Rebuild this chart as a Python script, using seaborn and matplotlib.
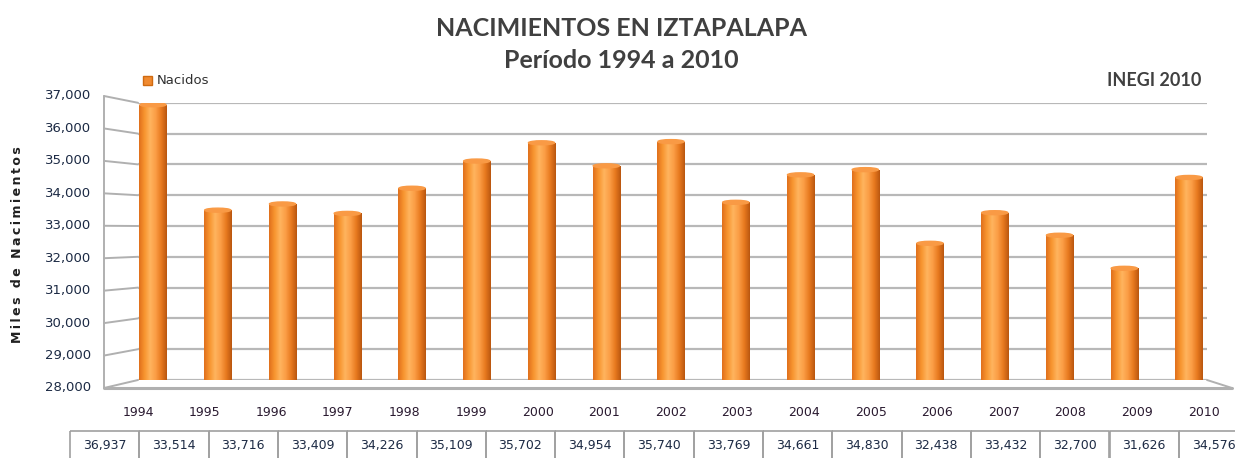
"""
Nacimientos en Iztapalapa 1994-2010, bar chart with a fake 3D look.
"""
import numpy as np
import pandas as pd
import matplotlib
matplotlib.use("Agg")
import matplotlib.pyplot as plt
import seaborn as sns
from matplotlib.colors import LinearSegmentedColormap
from matplotlib.patches import Ellipse, Rectangle

years = ['1994', '1995', '1996', '1997', '1998', '1999', '2000', '2001', '2002',
         '2003', '2004', '2005', '2006', '2007', '2008', '2009', '2010']
nacidos = [36937, 33514, 33716, 33409, 34226, 35109, 35702, 34954, 35740,
           33769, 34661, 34830, 32438, 33432, 32700, 31626, 34576]
y_ticks = [28000, 29000, 30000, 31000, 32000, 33000, 34000, 35000, 36000, 37000]

W, H = 1235, 458
YMIN, YMAX = 28000, 37000

sns.set_style("white")
plt.rcParams['font.family'] = ['DejaVu Sans']

fig = plt.figure(figsize=(W / 100, H / 100), dpi=100)

# overlay in pixel coordinates for the wall / floor / table
ov = fig.add_axes([0, 0, 1, 1])
ov.set_xlim(0, W)
ov.set_ylim(H, 0)
ov.axis('off')

# back wall of the plot: pixel box
bx0, bx1 = 138, 1207
by_top, by_bot = 102.8, 380
ax = fig.add_axes([bx0 / W, 1 - by_bot / H, (bx1 - bx0) / W, (by_bot - by_top) / H])
ax.patch.set_alpha(0)

df = pd.DataFrame({'Año': years, 'Nacidos': nacidos})
sns.barplot(data=df, x='Año', y='Nacidos', color='#f08a30', width=0.42,
            ax=ax, zorder=3, linewidth=0)

ax.set_ylim(YMIN, YMAX)
x_left = (bx0 - 153) / 64.75
x_right = (bx1 - 153) / 64.75
ax.set_xlim(x_left, x_right)

for t in y_ticks:
    ax.axhline(t, color='#b8b8b8', lw=1.6, zorder=1)
ax.set_xticks([])
ax.set_yticks([])
ax.set_xlabel('')
ax.set_ylabel('')
for s in ax.spines.values():
    s.set_visible(False)

# cylinder shading
cmap = LinearSegmentedColormap.from_list(
    'cyl', ['#e06f1c', '#f7952f', '#ffb45e', '#fb9d45', '#e7791f', '#b9560f'])
grad = np.linspace(0, 1, 256).reshape(1, -1)
px_per_unit = (by_bot - by_top) / (YMAX - YMIN)
for bar in list(ax.patches):
    x0 = bar.get_x()
    w = bar.get_width()
    h = bar.get_height()
    im = ax.imshow(grad, extent=[x0, x0 + w, YMIN, h], aspect='auto',
                   cmap=cmap, zorder=4)
    im.set_clip_path(bar)
    cap = Ellipse((x0 + w / 2, h), w * 0.96, 4 / px_per_unit, color='#f99a45', zorder=5)
    ax.add_patch(cap)
ax.set_xlim(x_left, x_right)
ax.set_ylim(YMIN, YMAX)

# left wall, front edge and floor
gc = '#b0b0b0'
fx = 104
fy_top, fy_bot = 96, 388
for k, t in enumerate(y_ticks):
    fy = fy_bot - k * (fy_bot - fy_top) / 9
    by = by_bot - k * (by_bot - by_top) / 9
    ov.plot([fx, bx0], [fy, by], color=gc, lw=1.4)
    ov.text(91, fy, f'{t:,}', ha='right', va='center',
            fontsize=9.5, color='#1c2a44')
ov.plot([fx, fx], [fy_top, fy_bot], color=gc, lw=1.4)
ov.plot([fx, 1232], [fy_bot, fy_bot], color=gc, lw=2.2)
ov.plot([bx1, 1232], [by_bot, fy_bot], color=gc, lw=1.4)

# year labels
for i, yr in enumerate(years):
    ov.text(138 + 66.6 * i, 413, yr, ha='center', va='center',
            fontsize=9, color='#2a1a30')

# data table
cw = 69.3
tx0, ty0, ty1 = 70, 431, 462
for i, v in enumerate(nacidos):
    ov.add_patch(Rectangle((tx0 + i * cw, ty0), cw, ty1 - ty0, fill=False,
                           edgecolor='#a0a0a0', lw=1.2))
    ov.text(tx0 + i * cw + cw / 2, 445, f'{v:,}', ha='center', va='center',
            fontsize=9, color='#1c2a44')

# titles and legend
ov.text(621, 28, 'NACIMIENTOS EN IZTAPALAPA', ha='center', va='center',
        fontsize=18, color='#404040', family='Lato', weight='bold')
ov.text(621, 61, 'Período 1994 a 2010', ha='center', va='center',
        fontsize=18, color='#404040', family='Lato', weight='bold')
ov.text(1201, 80, 'INEGI 2010', ha='right', va='center',
        fontsize=13, color='#404040', family='Lato', weight='bold')
ov.add_patch(Rectangle((143, 76), 9, 9, facecolor='#f08a30', edgecolor='#d06a10'))
ov.text(157, 80.5, 'Nacidos', ha='left', va='center', fontsize=9.5, color='#303030')
ylab = '\u2009'.join('Miles de Nacimientos')
ov.text(18, 245, ylab, rotation=90,
        ha='center', va='center', fontsize=9, weight='bold', color='#202020')

fig.savefig('out.png', dpi=100)
